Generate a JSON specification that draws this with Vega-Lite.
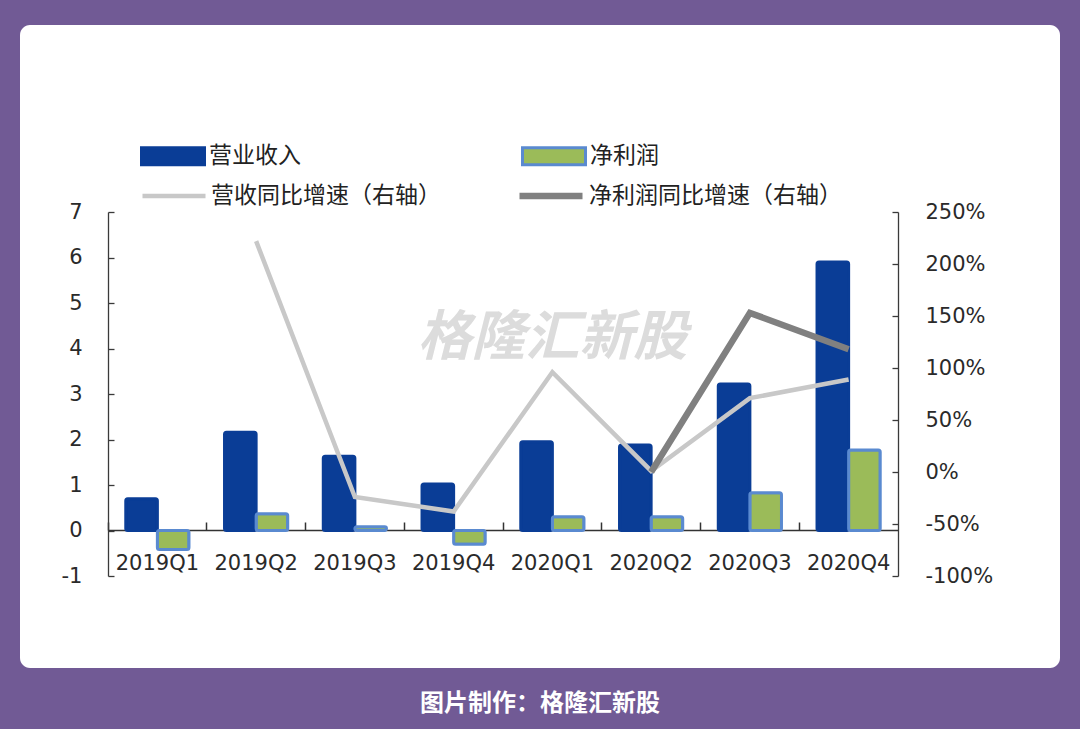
{
  "$schema": "https://vega.github.io/schema/vega-lite/v6.json",
  "width": 1040,
  "height": 643,
  "autosize": "none",
  "padding": {"left": 20, "top": 25, "right": 20, "bottom": 61},
  "background": "#715a95",
  "config": {
    "view": {"fill": "#ffffff", "stroke": null, "cornerRadius": 10},
    "font": "DejaVu Sans"
  },
  "title": {
    "text": "图片制作：格隆汇新股",
    "orient": "bottom",
    "anchor": "middle",
    "color": "#ffffff",
    "font": "Noto Sans CJK SC",
    "fontSize": 24,
    "fontWeight": "bold",
    "offset": 24
  },
  "datasets": {
    "bars": [
      {"q": "2019Q1", "s": "营业收入", "v": 0.70},
      {"q": "2019Q2", "s": "营业收入", "v": 2.16},
      {"q": "2019Q3", "s": "营业收入", "v": 1.63},
      {"q": "2019Q4", "s": "营业收入", "v": 1.02},
      {"q": "2020Q1", "s": "营业收入", "v": 1.95},
      {"q": "2020Q2", "s": "营业收入", "v": 1.88},
      {"q": "2020Q3", "s": "营业收入", "v": 3.22},
      {"q": "2020Q4", "s": "营业收入", "v": 5.90},
      {"q": "2019Q1", "s": "净利润", "v": -0.42},
      {"q": "2019Q2", "s": "净利润", "v": 0.37},
      {"q": "2019Q3", "s": "净利润", "v": 0.08},
      {"q": "2019Q4", "s": "净利润", "v": -0.30},
      {"q": "2020Q1", "s": "净利润", "v": 0.30},
      {"q": "2020Q2", "s": "净利润", "v": 0.30},
      {"q": "2020Q3", "s": "净利润", "v": 0.83},
      {"q": "2020Q4", "s": "净利润", "v": 1.77}
    ],
    "lines": [
      {"q": "2019Q2", "s": "营收同比增速（右轴）", "v": 2.22},
      {"q": "2019Q3", "s": "营收同比增速（右轴）", "v": -0.24},
      {"q": "2019Q4", "s": "营收同比增速（右轴）", "v": -0.38},
      {"q": "2020Q1", "s": "营收同比增速（右轴）", "v": 0.96},
      {"q": "2020Q2", "s": "营收同比增速（右轴）", "v": 0.01},
      {"q": "2020Q3", "s": "营收同比增速（右轴）", "v": 0.71},
      {"q": "2020Q4", "s": "营收同比增速（右轴）", "v": 0.89},
      {"q": "2020Q2", "s": "净利润同比增速（右轴）", "v": 0.0},
      {"q": "2020Q3", "s": "净利润同比增速（右轴）", "v": 1.53},
      {"q": "2020Q4", "s": "净利润同比增速（右轴）", "v": 1.18}
    ],
    "wm": [
      {"q": "2020Q1", "v": 4.2, "t": "格隆汇新股"}
    ]
  },
  "layer": [
    {
      "layer": [
        {
          "data": {"name": "wm"},
          "mark": {"type": "text", "fontSize": 54, "fontStyle": "italic", "fontWeight": "bold", "font": "Noto Sans CJK SC", "fill": "#d6d6d6", "opacity": 0.85, "align": "center", "baseline": "middle"},
          "encoding": {
            "x": {"field": "q", "type": "nominal",
                  "scale": {"domain": ["2019Q1","2019Q2","2019Q3","2019Q4","2020Q1","2020Q2","2020Q3","2020Q4"], "range": [88, 878], "paddingInner": 0.36, "paddingOuter": 0.18},
                  "axis": {"orient": "bottom", "offset": -138, "domain": false, "ticks": false, "labelPadding": 22, "labelFontSize": 21, "labelColor": "#2a2a2a", "labelAngle": 0, "title": null, "labelFont": "DejaVu Sans"}},
            "y": {"field": "v", "type": "quantitative",
                  "scale": {"domain": [-1, 7], "range": [551, 187], "nice": false, "zero": false},
                  "axis": {"orient": "left", "offset": -88, "values": [-1,0,1,2,3,4,5,6,7], "labelExpr": "replace(format(datum.value, 'd'), '−', '-')", "grid": false, "title": null,
                           "domainColor": "#3a3a3a", "domainWidth": 1.3, "tickColor": "#3a3a3a", "tickWidth": 1.3, "tickSize": -6,
                           "labelPadding": 32, "labelFontSize": 21, "labelColor": "#2a2a2a", "labelFont": "DejaVu Sans"}},
            "text": {"field": "t"}
          }
        },
        {
          "data": {"name": "bars"},
          "mark": {"type": "bar", "cornerRadius": 2, "strokeWidth": 3},
          "encoding": {
            "x": {"field": "q", "type": "nominal",
                  "scale": {"domain": ["2019Q1","2019Q2","2019Q3","2019Q4","2020Q1","2020Q2","2020Q3","2020Q4"], "range": [88, 878], "paddingInner": 0.36, "paddingOuter": 0.18},
                  "axis": {"orient": "bottom", "offset": -138, "domain": false, "ticks": false, "labelPadding": 22, "labelFontSize": 21, "labelColor": "#2a2a2a", "labelAngle": 0, "title": null, "labelFont": "DejaVu Sans"}},
            "xOffset": {"field": "s", "type": "nominal", "scale": {"domain": ["营业收入", "净利润"]}},
            "y": {"field": "v", "type": "quantitative",
                  "scale": {"domain": [-1, 7], "range": [551, 187], "nice": false, "zero": false},
                  "axis": {"orient": "left", "offset": -88, "values": [-1,0,1,2,3,4,5,6,7], "labelExpr": "replace(format(datum.value, 'd'), '−', '-')", "grid": false, "title": null,
                           "domainColor": "#3a3a3a", "domainWidth": 1.3, "tickColor": "#3a3a3a", "tickWidth": 1.3, "tickSize": -6,
                           "labelPadding": 32, "labelFontSize": 21, "labelColor": "#2a2a2a", "labelFont": "DejaVu Sans"}},
            "fill": {"field": "s", "type": "nominal",
                     "scale": {"domain": ["营业收入", "净利润"], "range": ["#0a3d96", "#9bbb59"]},
                     "legend": {"orient": "none", "legendX": 120, "legendY": 98, "direction": "horizontal", "title": null,
                                "symbolType": "M-1,-0.27H1V0.27H-1Z", "symbolSize": 3969, "symbolStrokeWidth": 3,
                                "labelFontSize": 23, "labelFont": "Noto Sans CJK SC", "labelColor": "#222222", "labelLimit": 400,
                                "labelOffset": 3, "columnPadding": 215, "padding": 0}},
            "stroke": {"field": "s", "type": "nominal",
                       "scale": {"domain": ["营业收入", "净利润"], "range": ["#0a3d96", "#5a8ad0"]}}
          }
        }
      ]
    },
    {
      "data": {"name": "lines"},
      "mark": {"type": "line", "strokeJoin": "miter"},
      "encoding": {
        "x": {"field": "q", "type": "nominal",
              "scale": {"domain": ["2019Q1","2019Q2","2019Q3","2019Q4","2020Q1","2020Q2","2020Q3","2020Q4"], "range": [88, 878], "paddingInner": 0.36, "paddingOuter": 0.18},
              "axis": {"orient": "top", "offset": -505, "labels": false, "domain": true, "domainColor": "#333333", "domainWidth": 1.5,
                       "ticks": true, "bandPosition": -0.281, "tickSize": 8, "tickColor": "#333333", "tickWidth": 1.5, "title": null}},
        "y": {"field": "v", "type": "quantitative",
              "scale": {"domain": [-1, 2.5], "range": [551, 187], "nice": false, "zero": false},
              "axis": {"orient": "right", "offset": -162, "values": [-1,-0.5,0,0.5,1,1.5,2,2.5],
                       "labelExpr": "replace(format(datum.value, '.0%'), '−', '-')", "grid": false, "title": null,
                       "domainColor": "#3a3a3a", "domainWidth": 1.3, "tickColor": "#3a3a3a", "tickWidth": 1.3, "tickSize": -6,
                       "labelPadding": 33, "labelFontSize": 21, "labelColor": "#2a2a2a", "labelFont": "DejaVu Sans"}},
        "stroke": {"field": "s", "type": "nominal",
                   "scale": {"domain": ["营收同比增速（右轴）", "净利润同比增速（右轴）"], "range": ["#c8c8c8", "#808080"]},
                   "legend": {"orient": "none", "legendX": 120, "legendY": 136, "direction": "horizontal", "title": null,
                              "symbolType": "stroke", "symbolSize": 3969,
                              "labelFontSize": 23, "labelFont": "Noto Sans CJK SC", "labelColor": "#222222", "labelLimit": 400,
                              "labelOffset": 3, "columnPadding": 65, "padding": 0}},
        "strokeWidth": {"field": "s", "type": "nominal",
                        "scale": {"type": "ordinal", "domain": ["营收同比增速（右轴）", "净利润同比增速（右轴）"], "range": [4.5, 6.5]}}
      }
    }
  ],
  "resolve": {
    "scale": {"y": "independent", "stroke": "independent", "fill": "independent", "strokeWidth": "independent"},
    "axis": {"x": "independent"}
  }
}
